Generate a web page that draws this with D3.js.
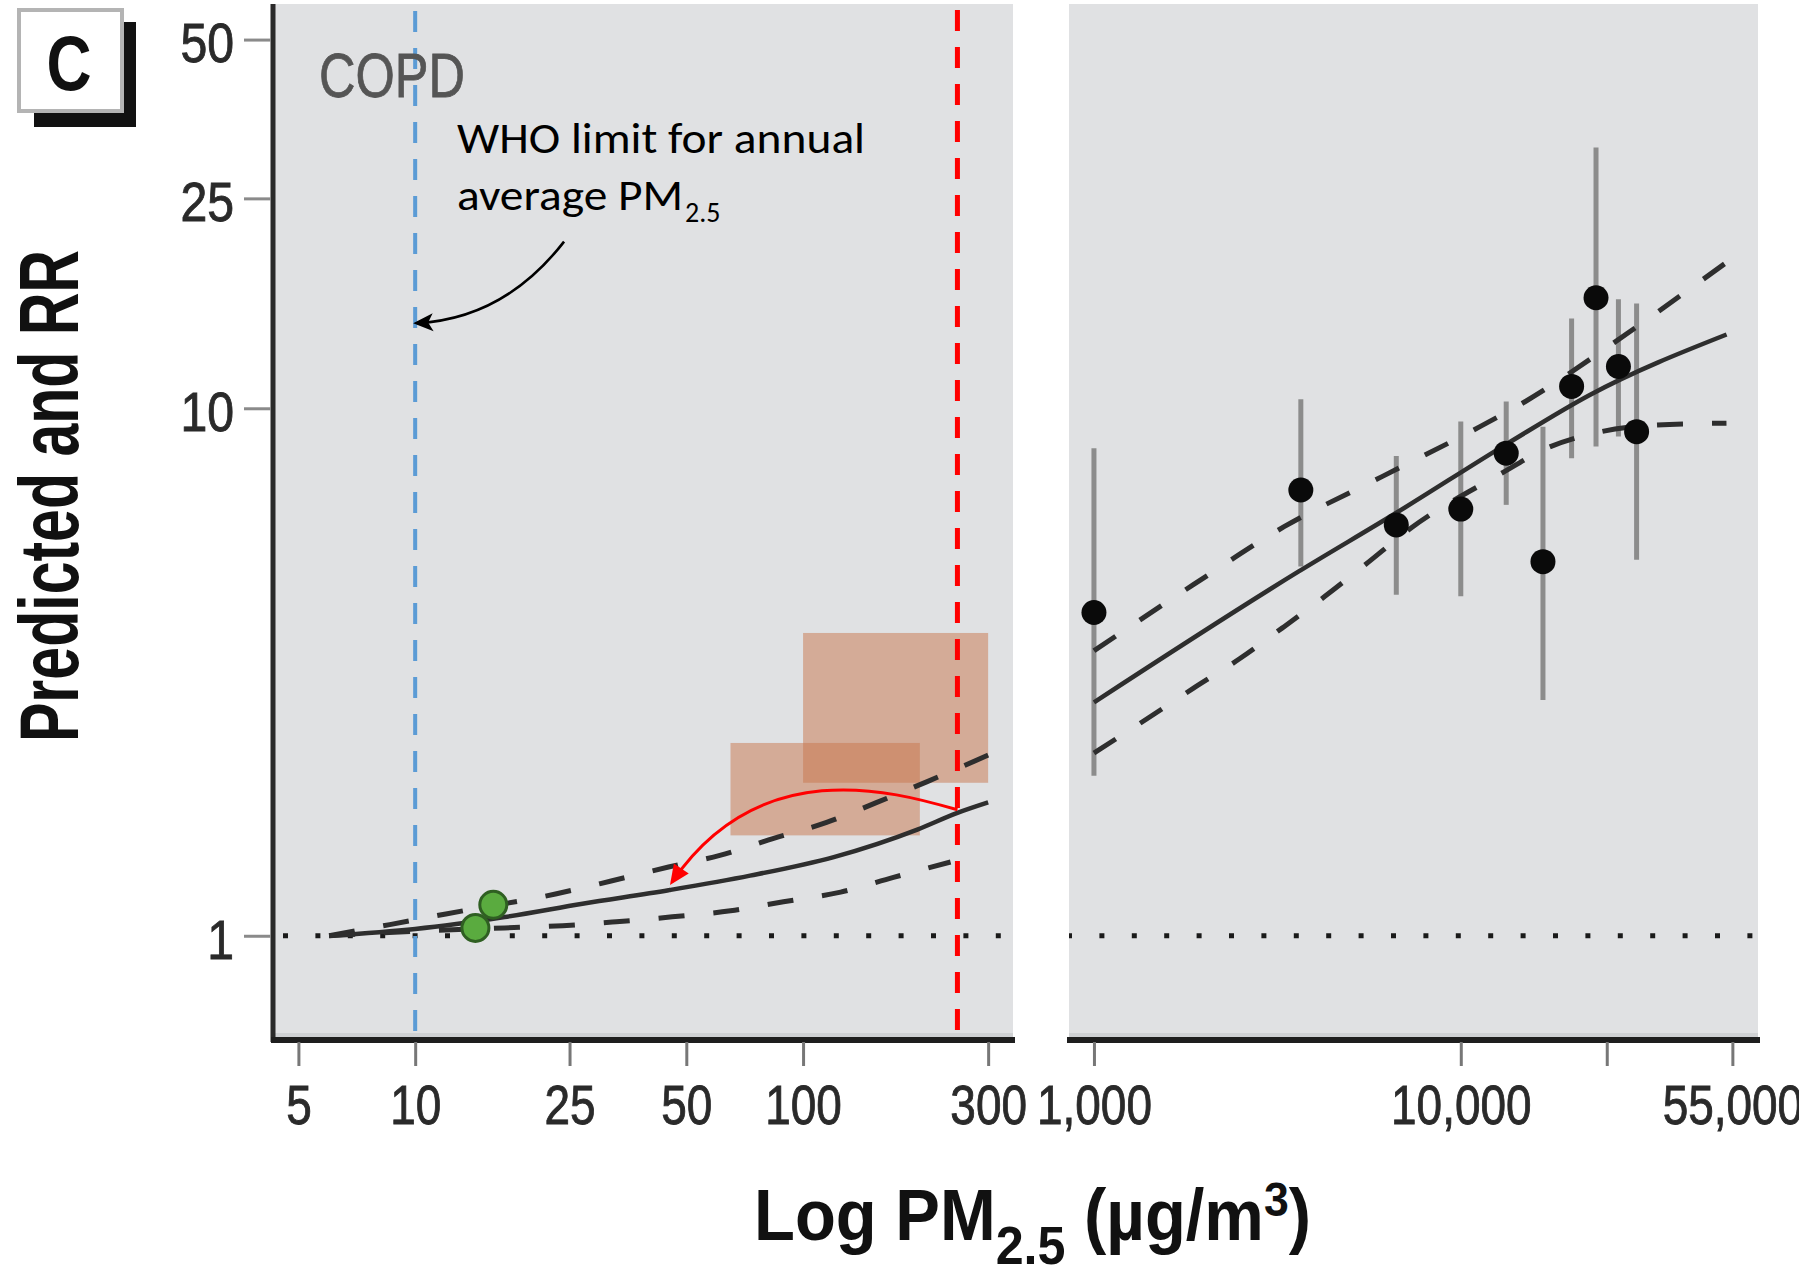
<!DOCTYPE html>
<html><head><meta charset="utf-8">
<script src="https://cdn.jsdelivr.net/npm/d3@7"></script>
<style>html,body{margin:0;padding:0;background:#fff;} svg{display:block;}</style>
</head><body>
<svg id="chart" width="1799" height="1265"></svg>
<script>
// ---------------- DATA ----------------
const yTicks = [1, 10, 25, 50];
const yTickLabels = ["1", "10", "25", "50"];
const xTicksLeft = [5, 10, 25, 50, 100, 300];
const xTickLabelsLeft = ["5", "10", "25", "50", "100", "300"];
const xTicksRight = [1000, 10000, 25000, 55000];
const xTickLabelsRight = ["1,000", "10,000", "", "55,000"];

const whoLimit = 10;      // blue dashed line
const redLimit = 250;     // red dashed line

// left panel fitted curve and CI (ambient PM2.5)
const solidX = [6, 10, 17, 27, 45, 73, 120, 197, 250, 300];
const solidY = [1.0, 1.03, 1.085, 1.15, 1.22, 1.30, 1.41, 1.59, 1.71, 1.79];
const upperX = [6, 8.6, 12, 23, 32, 45, 61, 84, 115, 155, 209, 300];
const upperY = [1.0, 1.05, 1.10, 1.20, 1.27, 1.35, 1.42, 1.53, 1.64, 1.79, 1.96, 2.2];
const lowerX = [6, 10, 17, 24, 33, 46, 65, 89, 125, 171, 240];
const lowerY = [1.0, 1.02, 1.035, 1.045, 1.063, 1.086, 1.115, 1.16, 1.21, 1.29, 1.38];

// green study points
const greenX = [14.3, 15.9];
const greenY = [1.035, 1.145];

// shaded ranges (PM2.5 range x RR range)
const boxX0 = [100, 65];
const boxX1 = [300, 200];
const boxY0 = [1.95, 1.55];
const boxY1 = [3.75, 2.32];

// right panel: smoking points with error bars
const ptX  = [1000, 3664, 6671, 10000, 13300, 16750, 20050, 23370, 26900, 30150];
const ptY  = [4.10, 7.00, 6.01, 6.44, 8.22, 5.12, 11.0, 16.2, 12.0, 9.03];
const ptLo = [2.01, 5.01, 4.43, 4.40, 6.56, 2.80, 8.04, 8.46, 8.84, 5.16];
const ptHi = [8.40, 10.4, 8.12, 9.44, 10.3, 9.23, 14.8, 31.2, 16.1, 15.8];

// right panel fit and CI
const fitRX = [1000, 3607, 6660, 13500, 22470, 53040];
const fitRY = [2.77, 4.90, 6.33, 8.60, 10.6, 13.8];
const upRX  = [1000, 1866, 3308, 6098, 11280, 15000, 26100, 45470, 53000];
const upRY  = [3.47, 4.63, 5.97, 7.42, 9.23, 10.3, 13.3, 17.5, 18.9];
const loRX  = [1000, 1409, 1873, 2494, 3257, 4262, 5486, 7320, 12920, 17150, 23130, 34200, 53000];
const loRY  = [2.22, 2.59, 2.95, 3.35, 3.83, 4.40, 5.05, 5.93, 7.53, 8.40, 8.97, 9.30, 9.37];

// annotation anchors (data space)
const whoArrowX = [24.2, 17.0, 10.0];
const whoArrowY = [20.7, 14.8, 14.5];
const redArrowX = [250, 167, 77, 46];
const redArrowY = [1.733, 1.89, 2.20, 1.266];

(function(){
// ---------------- FONTS ----------------
function fontAvailable(name){
  const c = document.createElement('canvas').getContext('2d');
  const t = 'Predicted and RR 0123456789';
  c.font = '40px monospace'; const w1 = c.measureText(t).width;
  c.font = '40px "' + name + '", monospace'; const w2 = c.measureText(t).width;
  c.font = '40px serif'; const w3 = c.measureText(t).width;
  c.font = '40px "' + name + '", serif'; const w4 = c.measureText(t).width;
  return (w1 !== w2) || (w3 !== w4);
}
const hasNarrow = fontAvailable('Liberation Sans Narrow');
const NARROW = hasNarrow ? '"Liberation Sans Narrow", sans-serif' : '"Liberation Sans", sans-serif';
const CAL = fontAvailable('Carlito') ? 'Carlito, Lato, sans-serif' : 'Lato, "Open Sans", sans-serif';
function condense(sel, f){
  if (hasNarrow) return;
  sel.each(function(){
    const t = d3.select(this);
    if (!this.textContent) return;
    const len = this.getComputedTextLength();
    t.attr('textLength', len * (f || 0.82)).attr('lengthAdjust','spacingAndGlyphs');
  });
}

// ---------------- SCALES ----------------
const svg = d3.select('#chart');
const pTop = 4, pBottom = 1038, axisY = 1040;
const leftL = 273, rightL = 1013, leftR = 1069, rightR = 1758;

const y = d3.scaleLog().domain([0.64, 58.4]).range([pBottom, pTop]);
const xL = d3.scaleLog().domain([4.3, 347.7]).range([leftL, rightL]);
const xR = d3.scaleLog().domain([855, 64600]).range([leftR, rightR]);

// defs
const defs = svg.append('defs');
defs.append('marker').attr('id','arrBlack').attr('viewBox','0 0 10 10')
  .attr('refX',8).attr('refY',5).attr('markerWidth',20).attr('markerHeight',20)
  .attr('markerUnits','userSpaceOnUse').attr('orient','auto')
  .append('path').attr('d','M0,0.5 L10,5 L0,9.5 L2.5,5 Z').attr('fill','#000');
defs.append('marker').attr('id','arrRed').attr('viewBox','0 0 10 10')
  .attr('refX',8).attr('refY',5).attr('markerWidth',24).attr('markerHeight',20)
  .attr('markerUnits','userSpaceOnUse').attr('orient','auto')
  .append('path').attr('d','M0,0.5 L10,5 L0,9.5 Z').attr('fill','#ff0000');
defs.append('clipPath').attr('id','clipL').append('rect')
  .attr('x',leftL).attr('y',pTop).attr('width',rightL-leftL).attr('height',pBottom-pTop);
defs.append('clipPath').attr('id','clipR').append('rect')
  .attr('x',leftR).attr('y',pTop).attr('width',rightR-leftR).attr('height',pBottom-pTop);

// ---------------- PANELS ----------------
const bg = '#e0e1e3';
svg.append('rect').attr('x',leftL).attr('y',pTop).attr('width',rightL-leftL).attr('height',pBottom-pTop).attr('fill',bg);
svg.append('rect').attr('x',leftR).attr('y',pTop).attr('width',rightR-leftR).attr('height',pBottom-pTop).attr('fill',bg);
svg.append('rect').attr('x',leftL).attr('y',pBottom-5).attr('width',rightL-leftL).attr('height',5).attr('fill','#cfd1d3');
svg.append('rect').attr('x',leftR).attr('y',pBottom-5).attr('width',rightR-leftR).attr('height',5).attr('fill','#cfd1d3');

const gL = svg.append('g').attr('clip-path','url(#clipL)');
const gR = svg.append('g').attr('clip-path','url(#clipR)');

// shaded boxes
gL.selectAll('rect.box').data(boxX0.map((d,i)=>i)).enter().append('rect')
  .attr('class','box')
  .attr('x', i => xL(boxX0[i]))
  .attr('y', i => y(boxY1[i]))
  .attr('width', i => xL(boxX1[i]) - xL(boxX0[i]))
  .attr('height', i => y(boxY0[i]) - y(boxY1[i]))
  .attr('fill','rgb(200,118,75)').attr('fill-opacity',0.5);

// dotted reference line RR=1
const dotStyle = sel => sel.attr('stroke','#1a1a1a').attr('stroke-width',5).attr('stroke-dasharray','5,27.4');
gL.append('line').attr('x1',leftL+10).attr('x2',rightL).attr('y1',y(1)).attr('y2',y(1)).call(dotStyle);
gR.append('line').attr('x1',leftR-2).attr('x2',rightR).attr('y1',y(1)).attr('y2',y(1)).call(dotStyle);

// curves
const lineL = d3.line().x(d=>xL(d[0])).y(d=>y(d[1])).curve(d3.curveMonotoneX);
const lineR = d3.line().x(d=>xR(d[0])).y(d=>y(d[1])).curve(d3.curveMonotoneX);
const zip = (a,b) => a.map((v,i)=>[v,b[i]]);
const dashed = sel => sel.attr('fill','none').attr('stroke','#2e2e2e').attr('stroke-width',5).attr('stroke-dasharray','26,29');
const solid = sel => sel.attr('fill','none').attr('stroke','#2e2e2e').attr('stroke-width',4.5);

gL.append('path').attr('d', lineL(zip(upperX,upperY))).call(dashed);
gL.append('path').attr('d', lineL(zip(lowerX,lowerY))).call(dashed);
gL.append('path').attr('d', lineL(zip(solidX,solidY))).call(solid);

// green points
gL.selectAll('circle.g').data(greenX.map((d,i)=>i)).enter().append('circle')
  .attr('cx', i=>xL(greenX[i])).attr('cy', i=>y(greenY[i])).attr('r',13.5)
  .attr('fill','#5aab3f').attr('stroke','#2f5f22').attr('stroke-width',3);

// vertical reference lines
svg.append('line').attr('x1',xL(whoLimit)).attr('x2',xL(whoLimit)).attr('y1',11).attr('y2',pBottom)
  .attr('stroke','#5b9bd5').attr('stroke-width',4).attr('stroke-dasharray','21,16');
svg.append('line').attr('x1',xL(redLimit)).attr('x2',xL(redLimit)).attr('y1',10).attr('y2',pBottom)
  .attr('stroke','#ff0000').attr('stroke-width',5).attr('stroke-dasharray','21,16');

// right panel error bars and points
gR.selectAll('line.err').data(ptX.map((d,i)=>i)).enter().append('line')
  .attr('class','err')
  .attr('x1',i=>xR(ptX[i])).attr('x2',i=>xR(ptX[i]))
  .attr('y1',i=>y(ptHi[i])).attr('y2',i=>y(ptLo[i]))
  .attr('stroke','#8c8c8c').attr('stroke-width',5);
gR.append('path').attr('d', lineR(zip(upRX,upRY))).call(dashed);
gR.append('path').attr('d', lineR(zip(loRX,loRY))).call(dashed);
gR.append('path').attr('d', lineR(zip(fitRX,fitRY))).call(solid);
gR.selectAll('circle.p').data(ptX.map((d,i)=>i)).enter().append('circle')
  .attr('cx',i=>xR(ptX[i])).attr('cy',i=>y(ptY[i])).attr('r',12.5).attr('fill','#0a0a0a');

// ---------------- AXES ----------------
svg.append('line').attr('x1',leftL).attr('x2',leftL).attr('y1',pTop).attr('y2',axisY+2)
  .attr('stroke','#2a2a2a').attr('stroke-width',5);
svg.append('line').attr('x1',leftL-2).attr('x2',rightL+2).attr('y1',axisY).attr('y2',axisY)
  .attr('stroke','#1e1e1e').attr('stroke-width',6);
svg.append('line').attr('x1',leftR-2).attr('x2',rightR+2).attr('y1',axisY).attr('y2',axisY)
  .attr('stroke','#1e1e1e').attr('stroke-width',6);

const tickFont = sel => sel.attr('font-family',NARROW).attr('font-size',56).attr('fill','#2a2a2a')
  .attr('stroke','#2a2a2a').attr('stroke-width',0.9);

const yAxis = d3.axisLeft(y).tickValues(yTicks).tickFormat((d,i)=>yTickLabels[i]).tickSize(27).tickPadding(10);
const gy = svg.append('g').attr('transform',`translate(${leftL-2},0)`).call(yAxis);
gy.select('.domain').remove();
gy.selectAll('.tick line').attr('stroke','#8a8a8a').attr('stroke-width',3);
gy.selectAll('.tick text').call(tickFont).attr('dy','0.40em').call(condense, 0.86);

const xAxisL = d3.axisBottom(xL).tickValues(xTicksLeft).tickFormat((d,i)=>xTickLabelsLeft[i]).tickSize(24).tickPadding(18);
const gxl = svg.append('g').attr('transform',`translate(0,${axisY+2})`).call(xAxisL);
gxl.select('.domain').remove();
gxl.selectAll('.tick line').attr('stroke','#777').attr('stroke-width',3);
gxl.selectAll('.tick text').call(tickFont).attr('dy','0.71em').call(condense, 0.82);

const xAxisR = d3.axisBottom(xR).tickValues(xTicksRight).tickFormat((d,i)=>xTickLabelsRight[i]).tickSize(24).tickPadding(18);
const gxr = svg.append('g').attr('transform',`translate(0,${axisY+2})`).call(xAxisR);
gxr.select('.domain').remove();
gxr.selectAll('.tick line').attr('stroke','#777').attr('stroke-width',3);
gxr.selectAll('.tick text').call(tickFont).attr('dy','0.71em').call(condense, 0.82);

// ---------------- TEXTS ----------------
svg.append('rect').attr('x',34).attr('y',22).attr('width',102).attr('height',105).attr('fill','#111');
svg.append('rect').attr('x',19).attr('y',10).attr('width',103).attr('height',101).attr('fill','#fff')
  .attr('stroke','#b4b4b4').attr('stroke-width',4);
svg.append('text').attr('x',69).attr('y',90).attr('text-anchor','middle')
  .attr('font-family',NARROW).attr('font-weight','bold').attr('font-size',78).attr('fill','#111').text('C')
  .call(condense, 0.8);

svg.append('text').attr('x',319).attr('y',97).attr('font-family',NARROW).attr('font-size',63)
  .attr('fill','#555').attr('stroke','#555').attr('stroke-width',0.8)
  .text('COPD').attr('textLength',146).attr('lengthAdjust','spacingAndGlyphs');

svg.append('text').attr('transform','translate(78,496) rotate(-90)').attr('text-anchor','middle')
  .attr('font-family',NARROW).attr('font-weight','bold').attr('font-size',84).attr('fill','#111')
  .attr('textLength',492).attr('lengthAdjust','spacingAndGlyphs').text('Predicted and RR');

const xt = svg.append('text').attr('x',754).attr('y',1240)
  .attr('font-family',NARROW).attr('font-weight','bold').attr('font-size',72).attr('fill','#111');
xt.append('tspan').text('Log PM');
xt.append('tspan').attr('font-size',54).attr('dy',24).text('2.5');
xt.append('tspan').attr('dy',-24).text(' (µg/m');
xt.append('tspan').attr('font-size',48).attr('dy',-24).text('3');
xt.append('tspan').attr('dy',24).text(')');
xt.attr('textLength',557).attr('lengthAdjust','spacingAndGlyphs');

const ann = sel => sel.attr('font-family',CAL).attr('font-size',43).attr('fill','#000');
svg.append('text').attr('x',457).attr('y',153).call(ann)
  .attr('textLength',408).attr('lengthAdjust','spacingAndGlyphs').text('WHO limit for annual');
const a2 = svg.append('text').attr('x',457).attr('y',210).call(ann);
a2.append('tspan').attr('textLength',226).attr('lengthAdjust','spacingAndGlyphs').text('average PM');
a2.append('tspan').attr('font-size',28).attr('dy',12).attr('dx',2).text('2.5');

const qpath = d3.path();
qpath.moveTo(xL(whoArrowX[0]), y(whoArrowY[0]));
qpath.quadraticCurveTo(xL(whoArrowX[1]), y(whoArrowY[1]), xL(whoArrowX[2])+2, y(whoArrowY[2]));
svg.append('path').attr('d',qpath.toString()).attr('fill','none').attr('stroke','#000')
  .attr('stroke-width',2.6).attr('marker-end','url(#arrBlack)');

const cpath = d3.path();
cpath.moveTo(xL(redArrowX[0]), y(redArrowY[0]));
cpath.bezierCurveTo(xL(redArrowX[1]), y(redArrowY[1]), xL(redArrowX[2]), y(redArrowY[2]), xL(redArrowX[3]), y(redArrowY[3]));
svg.append('path').attr('d',cpath.toString()).attr('fill','none').attr('stroke','#ff0000')
  .attr('stroke-width',3).attr('marker-end','url(#arrRed)');
})();
</script>
</body></html>
